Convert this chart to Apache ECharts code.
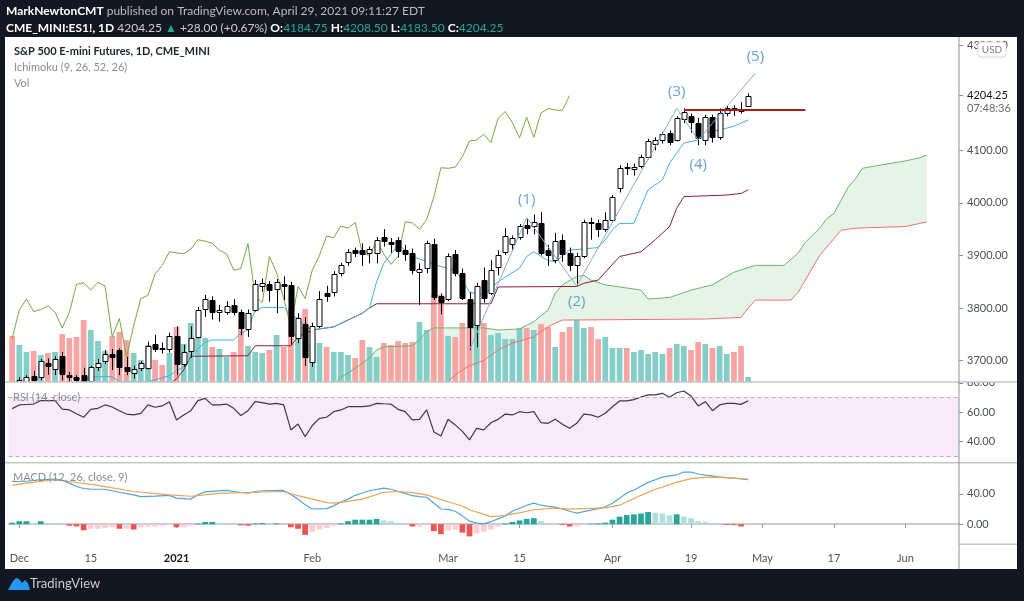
<!DOCTYPE html>
<html><head><meta charset="utf-8">
<script src="https://cdn.jsdelivr.net/npm/echarts@6.0.0/dist/echarts.min.js"></script>
<style>html,body{margin:0;padding:0;background:#131722;}#c{width:1024px;height:601px;}</style>
</head><body><div id="c"></div>
<script>
const dates = ['2020-11-30',
'2020-12-01','2020-12-02','2020-12-03','2020-12-04','2020-12-07','2020-12-08','2020-12-09','2020-12-10','2020-12-11',
'2020-12-14','2020-12-15','2020-12-16','2020-12-17','2020-12-18','2020-12-21','2020-12-22','2020-12-23','2020-12-24',
'2020-12-28','2020-12-29','2020-12-30','2020-12-31',
'2021-01-04','2021-01-05','2021-01-06','2021-01-07','2021-01-08','2021-01-11','2021-01-12','2021-01-13','2021-01-14','2021-01-15',
'2021-01-19','2021-01-20','2021-01-21','2021-01-22','2021-01-25','2021-01-26','2021-01-27','2021-01-28','2021-01-29',
'2021-02-01','2021-02-02','2021-02-03','2021-02-04','2021-02-05','2021-02-08','2021-02-09','2021-02-10','2021-02-11','2021-02-12',
'2021-02-16','2021-02-17','2021-02-18','2021-02-19','2021-02-22','2021-02-23','2021-02-24','2021-02-25','2021-02-26',
'2021-03-01','2021-03-02','2021-03-03','2021-03-04','2021-03-05','2021-03-08','2021-03-09','2021-03-10','2021-03-11','2021-03-12',
'2021-03-15','2021-03-16','2021-03-17','2021-03-18','2021-03-19','2021-03-22','2021-03-23','2021-03-24','2021-03-25','2021-03-26',
'2021-03-29','2021-03-30','2021-03-31',
'2021-04-01','2021-04-05','2021-04-06','2021-04-07','2021-04-08','2021-04-09','2021-04-12','2021-04-13','2021-04-14','2021-04-15','2021-04-16',
'2021-04-19','2021-04-20','2021-04-21','2021-04-22','2021-04-23','2021-04-26','2021-04-27','2021-04-28','2021-04-29','2021-04-30',
'2021-05-03','2021-05-04','2021-05-05','2021-05-06','2021-05-07','2021-05-10','2021-05-11','2021-05-12','2021-05-13','2021-05-14',
'2021-05-17','2021-05-18','2021-05-19','2021-05-20','2021-05-21','2021-05-24','2021-05-25','2021-05-26','2021-05-27','2021-05-28',
'2021-06-01','2021-06-02','2021-06-03','2021-06-04','2021-06-07','2021-06-08','2021-06-09','2021-06-10'];

const tickLabels = {'2020-12-01':'Dec','2020-12-15':'15','2021-01-04':'2021','2021-02-01':'Feb','2021-03-01':'Mar',
'2021-03-15':'15','2021-04-01':'Apr','2021-04-19':'19','2021-05-03':'May','2021-05-17':'17','2021-06-01':'Jun'};

const opens = [3640,3628,3655,3671,3668,3695,3684,3709,3672,3668,3672,3662,3688,3698,3712,3719,3688,3676,3686,3686,3731,3724,3723,
3747,3695,3718,3745,3798,3816,3793,3793,3806,3793,3760,3796,3843,3846,3835,3845,3843,3742,3770,
3697,3766,3829,3830,3865,3888,3910,3911,3905,3905,3935,3926,3930,3910,3905,3870,3875,3922,3822,
3817,3903,3866,3818,3766,3853,3829,3878,3906,3922,3936,3958,3955,3962,3910,3892,3930,3905,3880,3900,3964,3962,3950,
3968,4028,4068,4065,4070,4088,4113,4120,4133,4120,4160,4165,4153,4120,4163,4125,4170,4180,4177,4184.75];
const highs = [3652,3668,3672,3680,3703,3704,3708,3716,3678,3672,3686,3690,3703,3720,3722,3723,3707,3690,3699,3736,3749,3734,3753,
3765,3730,3765,3802,3825,3822,3806,3813,3817,3797,3797,3853,3856,3851,3855,3860,3850,3790,3782,
3772,3832,3842,3870,3886,3912,3915,3923,3917,3935,3950,3933,3935,3920,3913,3885,3928,3932,3828,
3904,3910,3875,3830,3848,3877,3891,3910,3952,3938,3960,3970,3978,3983,3920,3943,3940,3915,3905,3968,3972,3968,3982,
4015,4072,4076,4075,4092,4122,4125,4135,4138,4165,4180,4170,4162,4168,4168,4180,4185,4186,4192,4208.5];
const lows = [3595,3622,3640,3655,3662,3673,3672,3662,3650,3645,3650,3655,3680,3693,3682,3672,3672,3666,3680,3683,3716,3713,3715,
3672,3688,3705,3742,3783,3778,3774,3787,3786,3748,3745,3793,3831,3812,3790,3815,3730,3733,3690,
3688,3762,3812,3822,3860,3880,3897,3880,3885,3885,3917,3905,3896,3890,3864,3806,3866,3815,3788,
3813,3860,3815,3720,3725,3810,3825,3862,3901,3910,3930,3940,3940,3900,3880,3885,3888,3870,3842,3895,3930,3935,3945,
3965,4020,4053,4052,4066,4083,4100,4113,4110,4117,4152,4134,4110,4110,4115,4120,4165,4166,4170,4183.5];
const closes = [3625,3662,3668,3664,3699,3690,3703,3674,3669,3663,3660,3688,3695,3712,3706,3686,3680,3684,3696,3728,3721,3722,3747,
3693,3717,3742,3796,3817,3793,3797,3804,3792,3762,3791,3845,3848,3834,3849,3842,3745,3780,3707,
3766,3818,3824,3865,3881,3907,3905,3903,3912,3930,3927,3923,3910,3903,3872,3875,3923,3822,3810,
3898,3867,3818,3764,3841,3818,3872,3900,3937,3934,3956,3952,3963,3904,3900,3928,3903,3883,3898,3964,3962,3950,3968,
4011,4067,4066,4068,4088,4118,4120,4131,4115,4161,4174,4153,4124,4163,4125,4171,4180,4177,4176.25,4204.25];
// volume, thousands of contracts
const volumes = [1380,1110,900,930,810,870,900,1440,1320,1350,1860,1560,1230,930,1380,1500,1260,870,660,1110,660,510,870,
1650,1140,1770,1320,1320,1050,990,750,900,1620,1080,900,870,960,1410,1050,2220,1470,2190,
1170,1170,1050,900,900,810,720,1260,1050,750,1170,1110,1230,1170,1200,1800,1560,2610,2610,
1380,1350,1770,1650,1770,1770,1410,1470,1290,1290,1620,1620,1560,1740,1650,1050,1500,1650,1860,1620,1650,1290,1350,
1020,1020,1020,900,960,840,900,840,1020,1140,1080,960,1200,1140,1020,1080,840,900,1080,150];

// Ichimoku lines: [bar index, price]
const tenkan = [[0,3630],[5,3645],[9,3655],[11,3669],[14,3669],[15,3660],[19,3660],[20,3663],[22,3671],[23,3680],[24,3688],[25,3705],
[26,3722],[27,3735],[28,3739],[31,3739],[32,3752],[33,3758],[34,3796],[35,3801],[38,3801],[39,3787],[40,3780],[41,3765],[42,3758],
[45,3764],[47,3777],[49,3790],[50,3800],[51,3850],[52,3885],[54,3920],[55,3910],[56,3898],[60,3879],[62,3872],[63,3853],[64,3830],
[66,3825],[68,3850],[71,3876],[72,3898],[73,3907],[75,3890],[76,3888],[78,3910],[82,3915],[83,3930],[84,3949],[85,3961],[87,3961],
[89,4025],[91,4044],[92,4076],[93,4095],[94,4114],[96,4120],[97,4133],[99,4139],[101,4146],[102,4152],[103,4158]];
const kijun = [[20,3640],[22,3655],[23,3665],[24,3682],[25,3708],[33,3709],[34,3728],[39,3728],[40,3745],[41,3752],[42,3758],[45,3764],
[47,3777],[49,3790],[50,3800],[51,3808],[67,3808],[68,3840],[79,3841],[80,3847],[82,3853],[85,3898],[88,3907],[90,3930],[92,3955],
[93,3990],[94,4012],[100,4015],[102,4018],[103,4025]];
const spanA = [[44,3640],[46,3668],[48,3685],[50,3705],[51,3720],[52,3726],[56,3728],[57,3740],[58,3755],[59,3762],[66,3762],[68,3758],
[71,3760],[73,3774],[75,3796],[76,3828],[77,3844],[79,3860],[80,3862],[81,3853],[83,3844],[88,3834],[89,3817],[92,3820],[95,3834],
[98,3844],[101,3868],[104,3881],[108,3881],[110,3905],[111,3925],[113,3952],[114,3970],[115,3980],[116,4005],[117,4030],[118,4046],
[119,4066],[121,4071],[125,4080],[127,4086],[128,4091]];
const spanB = [[44,3560],[55,3600],[60,3645],[61,3660],[62,3672],[63,3682],[64,3690],[66,3700],[68,3720],[70,3733],[73,3745],[75,3764],
[76,3771],[77,3777],[88,3778],[97,3779],[102,3782],[103,3800],[104,3815],[109,3815],[110,3830],[113,3900],[116,3948],[118,3952],
[125,3955],[128,3964]];
const lagShift = 25;

// drawings
const waves = [[64,3720],[72,3972],[79,3842],[93,4180],[96,4120],[104,4247]];
const waveNames = ['(1)','(2)','(3)','(4)','(5)'];
const waveLabelAt = [[72,4006],[79,3811],[93,4211],[96,4072],[104,4278]];
const resistance = [[94,4177],[111,4177]];

const rsi = [62.5,65,65.3,65.6,67.9,68,67.9,62.2,61.6,59,56.6,62,62.7,65,63.6,61,58.8,58.2,59.3,65,63.4,64.3,67.2,
54.8,58.2,61.1,67.9,69.5,65,65,65.6,62.7,57.8,61.1,67.2,66.6,65.5,66.1,65,48,52,43.4,
51,55.9,56.6,60.4,61.6,63.8,63.8,63.8,64.3,66.1,65.8,65.6,62,60.4,54.8,55.2,61.6,46.8,43.9,
55.2,51.4,47,41.2,49.1,48,52.9,55.2,58.8,58.2,60.4,59.7,60.4,52.9,52.5,55.2,51.8,49.1,52.5,58.8,58.2,56.6,59.3,
63.8,67.7,67.7,68.6,70.4,71.8,71.8,72.9,70.2,73.3,74.5,71,64.3,67.2,61.1,65,66.1,66.1,65.4,67.9];

const macd = [[0,56.2],[2,56.5],[4,58.5],[6,59.4],[7,58],[8,54],[9,49.6],[10,47],[11,46.2],[13,46],[15,42],[17,38.5],[18,36.4],
[20,37],[22,38],[23,34.3],[25,33],[26,38.7],[27,42.5],[30,44.4],[32,41.7],[33,40.9],[34,43],[35,44],[38,44.4],[39,39],[40,33],
[41,25.5],[42,20],[44,20.5],[45,24.5],[46,29],[47,33],[48,38],[49,41],[50,44],[52,47.5],[53,46],[54,43],[55,40.5],[56,37.5],
[57,36.4],[58,35.5],[59,28],[60,20],[61,19.5],[62,17],[63,11],[64,4],[65,1.5],[66,0.4],[67,3.5],[68,7],[69,11],[70,17],[71,21],
[72,25],[73,27.7],[74,25],[75,23.5],[76,22.4],[77,20],[78,17],[79,14.5],[80,16.5],[81,18.5],[82,20.5],[83,23],[84,27.5],[85,34],
[86,41],[87,45],[88,50],[89,55],[90,58.5],[91,62],[92,63.5],[93,65],[94,68.6],[95,68.5],[96,66],[97,64.5],[98,63.5],[99,62],
[100,61.3],[101,60.7],[102,59.5],[103,58.5]];
const signal = [[0,51],[2,54.1],[6,58.5],[9,54.9],[12,51],[17,43],[22,38.7],[25,36.8],[29,40.5],[33,41.7],[38,43],[40,37.5],[42,33],
[44,28.5],[45,27.7],[47,30],[49,33],[52,42],[54,43],[56,41.5],[58,38.5],[61,29.5],[63,24],[64,19],[67,10],[69,11.5],[70,13.5],
[71,15],[73,19],[76,21.1],[78,19.8],[83,21.5],[85,25],[88,38],[90,46],[93,55],[95,60],[97,61.5],[99,62],[101,60.7],[103,59.5]];
const hist = [2,4,4,2,4,2,1,0.5,-2,-3,-8,-6,-6,-5,-4,-6,-6,-7,-4,-3,-3,-2,-1,-4,-4,-2,1,3,3,2,1.5,0.5,-1.5,-2,1,1.5,0.5,1,0.3,
-4,-6,-14,-10,-7,-5,-2,1,4,6,6,6,7,5,4,2,0.5,-3,-3,-1,-9,-13,-8,-7,-11,-16,-12,-10,-7,-3,1,3,5,7,8,4,1.5,1,-1,-3,-3,-0.5,
0.5,1,2,6,10,12,13,14,16,15,14,12,13,10,8,4,3,1,0,-1,-1.2,-3,-1.5];

const priceTicks = [3700,3800,3900,4000,4100,4204.25,4300];
const rsiTicks = [40,60,80];
const macdTicks = [0,40];

// ---------------- chart ----------------
const FONT = 'Lato';
const L = 8.6, W = 950.4;
const chart = echarts.init(document.getElementById('c'), null, {renderer:'canvas'});
const gridTop = [37, 382, 462.7], gridH = [345, 80.7, 81.6];
const candleData = opens.map((o,i)=>[i, o, closes[i], lows[i], highs[i]]);
const volData = volumes.map((v,i)=>({value:v, itemStyle:{color: closes[i] >= opens[i] ? '#83cfc7' : '#f7a4a3'}}));
const histData = hist.map((v,i)=>{
  const p = i>0 ? hist[i-1] : 0;
  let c;
  if (v >= 0) c = v >= p ? '#26a69a' : '#b2dfdb'; else c = v < p ? '#ef5350' : '#ffcdd2';
  return {value:v, itemStyle:{color:c}};
});
const chikou = closes.slice(lagShift).map((c,i)=>[i,c]);
const showTick = (i, v) => tickLabels[v] !== undefined;

function xAx(g, show){
  return {type:'category', gridIndex:g, data:dates, boundaryGap:true,
    axisLine:{show:show, lineStyle:{color:'#b8bbc2', width:1.5}},
    axisTick:{show:show, interval:showTick, alignWithLabel:true, length:4, lineStyle:{color:'#9598a1'}},
    axisLabel:{show:show, interval:showTick, margin:9, fontFamily:FONT, fontSize:11, color:'#50535e',
      formatter:v => v === '2021-01-04' ? '{b|2021}' : (tickLabels[v] || ''),
      rich:{b:{fontWeight:'bold', color:'#131722', fontSize:11, fontFamily:FONT}}},
    splitLine:{show:false}};
}
function yAx(g, min, max, ticks, extra){
  return Object.assign({type:'value', gridIndex:g, position:'right', min:min, max:max,
    splitLine:{show:false}, axisLine:{show:false},
    axisTick:{show:true, customValues:ticks, length:4, lineStyle:{color:'#8a8d96'}},
    axisLabel:{customValues:ticks, margin:8, fontFamily:FONT, fontSize:11, color:'#4a4e59',
      formatter:v => v === 4204.25 ? '{c|4204.25}' : v.toFixed(2),
      rich:{c:{color:'#131722', fontSize:11, fontFamily:FONT}}}}, extra||{});
}
const lineS = (name, data, color, xi, yi, w, extra) => Object.assign({name, type:'line', data, xAxisIndex:xi, yAxisIndex:yi,
  symbol:'none', lineStyle:{color, width:w||1}, clip:true, silent:true, z:3}, extra||{});
const clipRect = cs => ({type:'rect', shape:{x:cs.x, y:cs.y, width:cs.width, height:cs.height}});

const option = {
  animation:false,
  backgroundColor:'#131722',
  textStyle:{fontFamily:FONT},
  grid: gridTop.map((t,i)=>({left:L, width:W, top:t, height:gridH[i]})),
  xAxis:[xAx(0,false), xAx(1,false), xAx(2,true)],
  yAxis:[
    yAx(0, 3659, 4316, priceTicks),
    {type:'value', gridIndex:0, min:0, max:10350, show:false},
    yAx(1, 25.7, 80.6, rsiTicks),
    yAx(2, -26.4, 80.9, macdTicks)
  ],
  series:[
    {name:'Vol', type:'bar', xAxisIndex:0, yAxisIndex:1, data:volData, barWidth:'80%', silent:true, z:1},
    {name:'Cloud', type:'custom', xAxisIndex:0, yAxisIndex:0, data:[[0,3700]], clip:true, silent:true, z:1,
      renderItem:(params, api)=>{
        const pts = spanA.map(p=>api.coord(p)).concat(spanB.slice().reverse().map(p=>api.coord(p)));
        return {type:'polygon', shape:{points:pts}, style:{fill:'rgba(102,187,106,0.16)'}, clipPath:clipRect(params.coordSys)};
      }},
    lineS('Lead A', spanA, '#66b866', 0, 0, 1),
    lineS('Lead B', spanB, '#ef7070', 0, 0, 1),
    lineS('Lagging', chikou, '#78ab3c', 0, 0, 1),
    lineS('Base', kijun, '#8e1f36', 0, 0, 1),
    lineS('Conversion', tenkan, '#45aee6', 0, 0, 1),
    {name:'ES1!', type:'custom', xAxisIndex:0, yAxisIndex:0, data:candleData, clip:true, silent:true, z:4,
      encode:{x:0, y:[1,2,3,4]},
      renderItem:(params, api)=>{
        const i = api.value(0), o = api.value(1), c = api.value(2), lo = api.value(3), hi = api.value(4);
        const po = api.coord([i,o]), pc = api.coord([i,c]), pl = api.coord([i,lo]), ph = api.coord([i,hi]);
        const bw = Math.max(3, Math.round(api.size([1,0])[0]*0.66));
        const xc = Math.round(po[0]) + 0.5;
        const top = Math.round(Math.min(po[1], pc[1])) + 0.5;
        const h = Math.max(1, Math.round(Math.abs(po[1]-pc[1])));
        const up = c >= o;
        return {type:'group', clipPath:clipRect(params.coordSys), children:[
          {type:'line', shape:{x1:xc, y1:ph[1], x2:xc, y2:pl[1]}, style:{stroke:'#000000', lineWidth:1}},
          {type:'rect', shape:{x:Math.round(xc - bw/2) + 0.5 - 0.5, y:top, width:bw, height:h},
            style:{fill: up ? '#ffffff' : '#000000', stroke:'#000000', lineWidth:1}}
        ]};
      }},
    lineS('Waves', waves, '#86acd6', 0, 0, 1, {z:5}),
    lineS('Resistance', resistance, '#a81c1c', 0, 0, 2.2, {z:5}),
    {name:'Wave labels', type:'scatter', xAxisIndex:0, yAxisIndex:0, symbolSize:1, itemStyle:{color:'rgba(0,0,0,0)'}, z:6, silent:true,
      data: waveLabelAt.map((p,i)=>({value:p, name:waveNames[i]})),
      label:{show:true, position:'inside', formatter:p=>p.name, color:'#3f88c5', fontSize:15, fontFamily:'Open Sans'}},
    lineS('RSI', rsi, '#41354a', 1, 2, 1.2, {
      markArea:{silent:true, itemStyle:{color:'#f8e9fb'}, data:[[{yAxis:30},{yAxis:70}]]},
      markLine:{silent:true, symbol:'none', label:{show:false}, lineStyle:{color:'#b3b3b3', type:[4,3], width:1},
        data:[{yAxis:70},{yAxis:30}]}}),
    {name:'Histogram', type:'bar', xAxisIndex:2, yAxisIndex:3, data:histData, barWidth:'80%', silent:true, z:2},
    lineS('MACD', macd, '#4ea6dc', 2, 3, 1.2),
    lineS('Signal', signal, '#eda255', 2, 3, 1.2)
  ],
  graphic:[
    {id:'panel', type:'rect', z:-10, shape:{x:5, y:37, width:1012, height:532}, style:{fill:'#ffffff'}, silent:true},
    {id:'h1', type:'text', x:6, y:11, silent:true, style:{text:'{b|MarkNewtonCMT} {g|published on TradingView.com, April 29, 2021 09:11:27 EDT}',
      verticalAlign:'middle', font:'12px Lato',
      rich:{b:{fill:'#ffffff', fontWeight:'bold', fontSize:12, fontFamily:FONT}, g:{fill:'#b8bbc4', fontSize:12, fontFamily:FONT}}}},
    {id:'h2', type:'text', x:6, y:28, silent:true, style:{text:'{b|CME_MINI:ES1!, 1D} {g|4204.25} {t|▲} {g|+28.00 (+0.67%)} {b|O:}{t|4184.75} {b|H:}{t|4208.50} {b|L:}{t|4183.50} {b|C:}{t|4204.25}',
      verticalAlign:'middle', font:'12px Lato',
      rich:{b:{fill:'#ffffff', fontWeight:'bold', fontSize:12, fontFamily:FONT}, g:{fill:'#c9ccd4', fontSize:12, fontFamily:FONT},
        t:{fill:'#26a69a', fontSize:12, fontFamily:FONT}}}},
    {id:'lg1', type:'text', x:14, y:51, silent:true, style:{text:'S&P 500 E-mini Futures, 1D, CME_MINI', verticalAlign:'middle',
      font:'bold 11px Lato', fill:'#1e222d'}},
    {id:'lg2', type:'text', x:14, y:67, silent:true, style:{text:'Ichimoku (9, 26, 52, 26)', verticalAlign:'middle', font:'11px Lato', fill:'#8a8d96'}},
    {id:'lg3', type:'text', x:14, y:83, silent:true, style:{text:'Vol', verticalAlign:'middle', font:'11px Lato', fill:'#8a8d96'}},
    {id:'lg4', type:'text', x:13, y:397, z:20, silent:true, style:{text:'RSI (14, close)', verticalAlign:'middle', font:'11px Lato', fill:'#8a8d96'}},
    {id:'lg5', type:'text', x:13, y:477, z:20, silent:true, style:{text:'MACD (12, 26, close, 9)', verticalAlign:'middle', font:'11px Lato', fill:'#8a8d96'}},
    {id:'cov', type:'rect', z:40, shape:{x:960, y:372, width:57, height:10}, style:{fill:'#ffffff'}, silent:true},
    {id:'sep1', type:'line', z:50, shape:{x1:5, y1:382, x2:1017, y2:382}, style:{stroke:'#c4c6cc', lineWidth:1.6}, silent:true},
    {id:'sep2', type:'line', z:50, shape:{x1:5, y1:462.7, x2:1017, y2:462.7}, style:{stroke:'#c4c6cc', lineWidth:1.6}, silent:true},
    {id:'sep3', type:'line', z:50, shape:{x1:959, y1:544.3, x2:1017, y2:544.3}, style:{stroke:'#c4c6cc', lineWidth:1.6}, silent:true},
    {id:'vax', type:'line', z:50, shape:{x1:959, y1:37, x2:959, y2:569}, style:{stroke:'#8f929a', lineWidth:1}, silent:true},
    {id:'usdb', type:'rect', z:60, shape:{x:978, y:42, width:28, height:15, r:3}, style:{fill:'#ffffff', stroke:'#d3d6dc', lineWidth:1}, silent:true},
    {id:'usdt', type:'text', z:61, x:992, y:49.5, silent:true, style:{text:'USD', align:'center', verticalAlign:'middle', font:'10px Lato', fill:'#787b86'}},
    {id:'logo', type:'polygon', z:10, silent:true, shape:{points:[[8,590],[13,581],[16,578],[19,579],[22,583],[25,580],[28,583],[30,590]]}, style:{fill:'#2196f3'}},
    {id:'tv', type:'text', x:30, y:584, silent:true, style:{text:'TradingView', verticalAlign:'middle', font:'13px Lato', fill:'#c9ccd4'}}
  ]
};
chart.setOption(option);
const yCur = chart.convertToPixel({yAxisIndex:0}, 4204.25);
chart.setOption({graphic:[{id:'tm', type:'text', x:967, y:yCur+13, silent:true, z:20,
  style:{text:'07:48:36', verticalAlign:'middle', font:'11px Lato', fill:'#6a6d78'}}]});
</script></body></html>
